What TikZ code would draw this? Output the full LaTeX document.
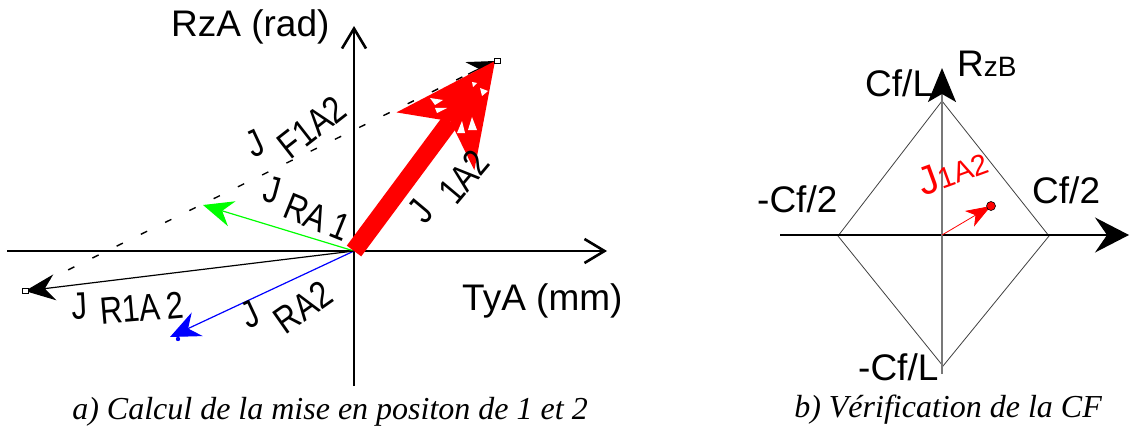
\documentclass[tikz,border=0pt]{standalone}
\usepackage{fontspec}
\setmainfont{Liberation Sans}
\newfontfamily\capfont{Liberation Serif}
\newfontfamily\condfont[FakeStretch=0.82]{Liberation Sans}
\usetikzlibrary{arrows.meta,calc}
\definecolor{vgreen}{RGB}{0,255,0}
\definecolor{vblue}{RGB}{0,0,255}
\definecolor{vred}{RGB}{255,0,0}
\definecolor{dgray}{RGB}{64,64,64}
\definecolor{mgray}{RGB}{120,120,120}
\begin{document}
\begin{tikzpicture}[x=1pt,y=-1pt,
  axlbl/.style={font=\fontsize{37}{40}\selectfont, inner sep=0pt},
  jlbl/.style={font=\condfont\fontsize{38}{40}\selectfont, inner sep=0pt},
  rjlbl/.style={font=\fontsize{40}{42}\selectfont, inner sep=0pt},
  smlbl/.style={font=\fontsize{29}{31}\selectfont, inner sep=0pt},
  capt/.style={font=\capfont\itshape\fontsize{32}{36}\selectfont, inner sep=0pt, anchor=base},
  axisA/.style={line width=1.3pt, -{Straight Barb[length=20pt,width=24pt,line width=2.6pt]}},
  vec/.style={line width=1.2pt, -{Stealth[length=30pt,width=26pt,inset=10pt]}},
  endsq/.style={draw, fill=white, line width=0.7pt, minimum width=6pt, minimum height=5pt, inner sep=0pt},
  fdash/.style={line width=1.4pt, dash pattern=on 7pt off 20pt, dash phase=6pt},
]
\useasboundingbox (0,0) rectangle (1131,433);

% ---------- left panel ----------
\coordinate (O) at (354,251);
\coordinate (Ytop) at (354,26);
\coordinate (Ybot) at (354,386);
\coordinate (Xl) at (7,251);
\coordinate (Xr) at (607,251);
\coordinate (T) at (495,61);
\coordinate (R1) at (25,291);
\coordinate (G) at (203,205);
\coordinate (B) at (170,337);

\draw[line width=1.3pt] (Ybot) -- (354,60);
\draw[axisA] (354,100) -- (Ytop);
\draw[axisA] (Xl) -- (Xr);

% dashed J F1A2
\draw[fdash] (R1) -- (T);
\draw[line width=1.2pt, -{Stealth[length=27pt,width=24pt,inset=9pt]}] ($(T)!30pt!(R1)$) -- (T);

% green, blue, black vectors
\draw[vec, vgreen] (O) -- (G);
\draw[vec, vblue] (O) -- (B);
\fill[vblue] (178,339) circle (2.2pt);
\draw[vec, black] (O) -- (R1);

% red thick vector J1A2
\draw[vred, line width=18pt,
      -{Stealth[length=100pt,width=97pt,inset=25pt,line width=0pt]}] (O) -- (T);
\fill[white] (430,98) -- (443,100) -- (435,105) -- cycle;
\fill[white] (435,108) -- (447,108) -- (437,113) -- cycle;
\fill[white] (472,82) -- (477,83) -- (473,87) -- cycle;
\fill[white] (480,88) -- (488,91) -- (482,96) -- cycle;
\fill[white] (462,121) -- (465,133) -- (457,133) -- cycle;
\fill[white] (472,117) -- (477,130) -- (468,130) -- cycle;

\node[endsq] (sqT) at (497,61) {};
\node[endsq] (sqR) at (25,291) {};

% labels
\node[axlbl, anchor=base west] (rza) at (171,37) {RzA (rad)};
\node[axlbl, anchor=base west] (tya) at (462,310) {TyA (mm)};

\node[jlbl, rotate=25] (jf) at (255,144) {J};
\node[jlbl, rotate=38] (jfs) at (312,127) {F1A2};
\node[jlbl, rotate=-15] (jr1) at (272,190) {J};
\node[jlbl, rotate=-22] (jr1s) at (317,217) {RA\,1};
\node[jlbl, rotate=50] (j12) at (421,211) {J};
\node[jlbl, rotate=50] (j12s) at (464,177) {1A2};
\node[jlbl, rotate=3] (jr12) at (80,306) {J};
\node[jlbl, rotate=5] (jr12s) at (142,308) {R1A\,2};
\node[jlbl, rotate=25] (jr2) at (250,315) {J};
\node[jlbl, rotate=35] (jr2s) at (303,307) {RA2};

\node[capt] (capA) at (330,419) {a) Calcul de la mise en positon de 1 et 2};

% ---------- right panel ----------
\coordinate (O2) at (942,235);
\coordinate (H1) at (780,235);
\coordinate (H2) at (1129,235);
\coordinate (V1) at (942,374);
\coordinate (V2) at (942,68);
\coordinate (dT) at (942,101);
\coordinate (dR) at (1049,236);
\coordinate (dB) at (943,366);
\coordinate (dL) at (838,236);
\coordinate (P) at (991,206);

\draw[dgray, line width=0.8pt] (dT) -- (dR) -- (dB) -- (dL) -- cycle;
\draw[line width=1.3pt, -{Stealth[length=34pt,width=35pt,inset=12pt]}] (H1) -- (H2);
\draw[mgray, line width=1.5pt, -{Stealth[length=34pt,width=28pt,inset=8pt,color=black]}] (V1) -- (V2);
\draw[vred, line width=0.8pt, -{Stealth[length=25pt,width=18pt,inset=7pt]}] (O2) -- (P);
\node[circle, fill=vred, draw=black, line width=0.6pt, minimum size=9pt, inner sep=0pt] (pt) at (P) {};

\node[axlbl, anchor=base west] (cfl) at (865,97) {Cf/L};
\node[anchor=base west, inner sep=0pt] (rzb) at (957,77) {\fontsize{37}{40}\selectfont R\fontsize{28}{30}\selectfont zB};
\node[axlbl, anchor=base west] (mcf2) at (757,212) {-Cf/2};
\node[axlbl, anchor=base west] (cf2) at (1032,203) {Cf/2};
\node[axlbl, anchor=base west] (mcfl) at (858,380) {-Cf/L};
\node[rjlbl, vred, rotate=20] (j) at (928,180) {J};
\node[smlbl, vred, rotate=20] (js) at (963,171) {1A2};

\node[capt] (capB) at (948,417) {b) Vérification de la CF};
\end{tikzpicture}
\end{document}
